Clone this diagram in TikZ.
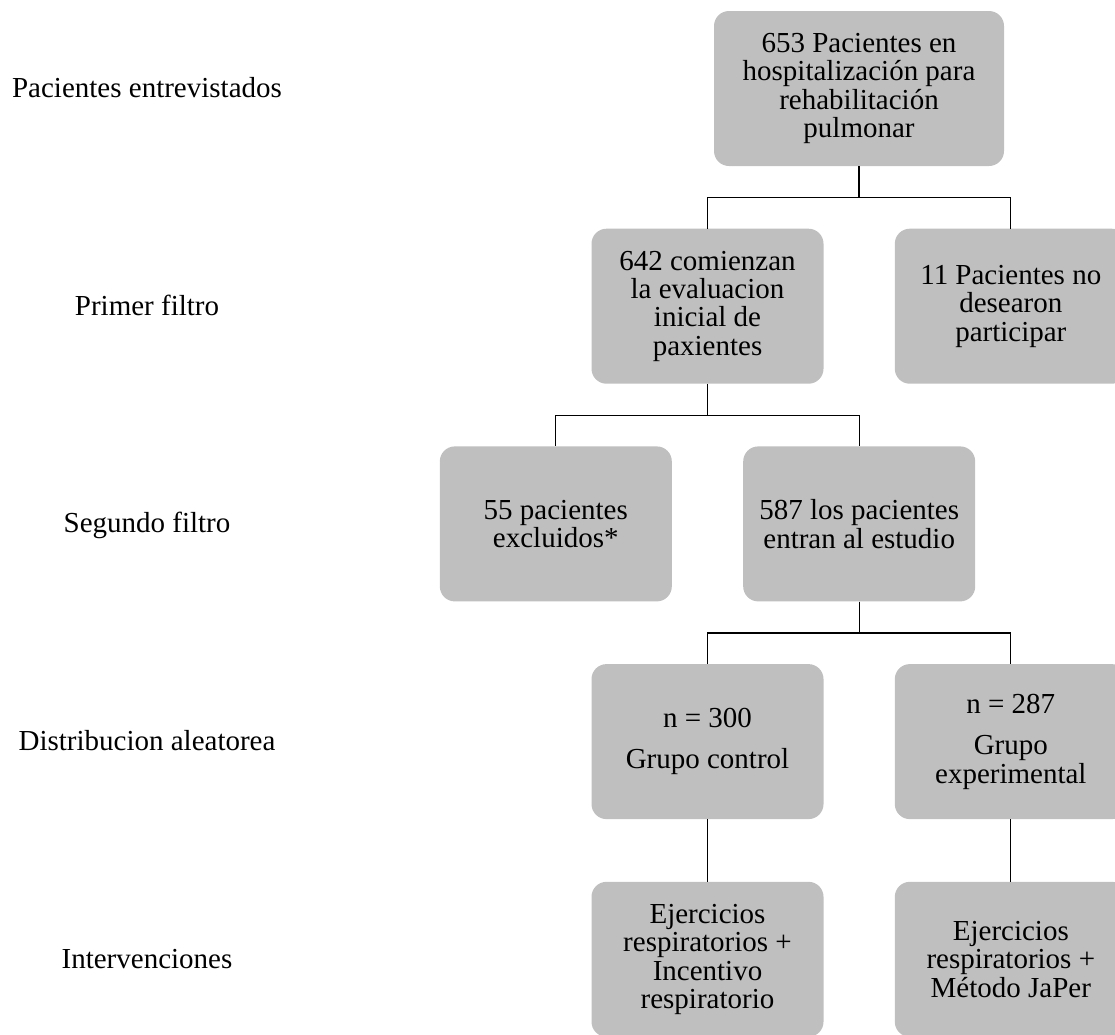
\documentclass[tikz,border=0pt]{standalone}
\usepackage{fontspec}
\setmainfont{Liberation Serif}
\definecolor{boxgray}{RGB}{191,191,191}
\begin{document}
\begin{tikzpicture}[x=1pt,y=-1pt,
  txt/.style={font=\fontsize{29}{28.4}\selectfont},
  box/.style={txt, rectangle, rounded corners=15pt, fill=boxgray, draw=none,
    minimum width=232pt, minimum height=155pt, inner sep=0pt, align=center},
  lbl/.style={txt, anchor=base, inner sep=0pt},
  conn/.style={draw=black, line width=1.3pt}]
\useasboundingbox (0,0) rectangle (1115,1034);
\clip (0,0) rectangle (1115,1034);
% labels
\node[lbl] (l1) at (147, 97.5) {Pacientes entrevistados};
\node[lbl] (l2) at (147, 315.2) {Primer filtro};
\node[lbl] (l3) at (147, 532.9) {Segundo filtro};
\node[lbl] (l4) at (147, 750.6) {Distribucion aleatorea};
\node[lbl] (l5) at (147, 968.3) {Intervenciones};
% boxes
\node[box, minimum width=290pt] (top) at (859, 88.5)
  {653 Pacientes en\\hospitalización para\\rehabilitación\\pulmonar};
\node[box] (eval) at (707.5, 306.2)
  {642 comienzan\\la evaluacion\\inicial de\\paxientes};
\node[box] (nodes) at (1010.8, 306.2)
  {11 Pacientes no\\desearon\\participar};
\node[box] (excl) at (555.8, 523.9)
  {55 pacientes\\excluidos*};
\node[box] (entran) at (859.2, 523.9)
  {587 los pacientes\\entran al estudio};
\node[box] (ctrl) at (707.5, 741.6)
  {n = 300\\[13pt]Grupo control};
\node[box] (expe) at (1010.8, 741.6)
  {n = 287\\[13pt]Grupo\\experimental};
\node[box] (int1) at (707.5, 959.3)
  {Ejercicios\\respiratorios +\\Incentivo\\respiratorio};
\node[box] (int2) at (1010.8, 959.3)
  {Ejercicios\\respiratorios +\\Método JaPer};
% connectors
\draw[conn] (top.south) -- ++(0,31.4) -| (eval.north);
\draw[conn] (top.south) -- ++(0,31.4) -| (nodes.north);
\draw[conn] (eval.south) -- ++(0,31.4) -| (excl.north);
\draw[conn] (eval.south) -- ++(0,31.4) -| (entran.north);
\draw[conn] (entran.south) -- ++(0,31.4) -| (ctrl.north);
\draw[conn] (entran.south) -- ++(0,31.4) -| (expe.north);
\draw[conn] (ctrl.south) -- (int1.north);
\draw[conn] (expe.south) -- (int2.north);
\end{tikzpicture}
\end{document}
